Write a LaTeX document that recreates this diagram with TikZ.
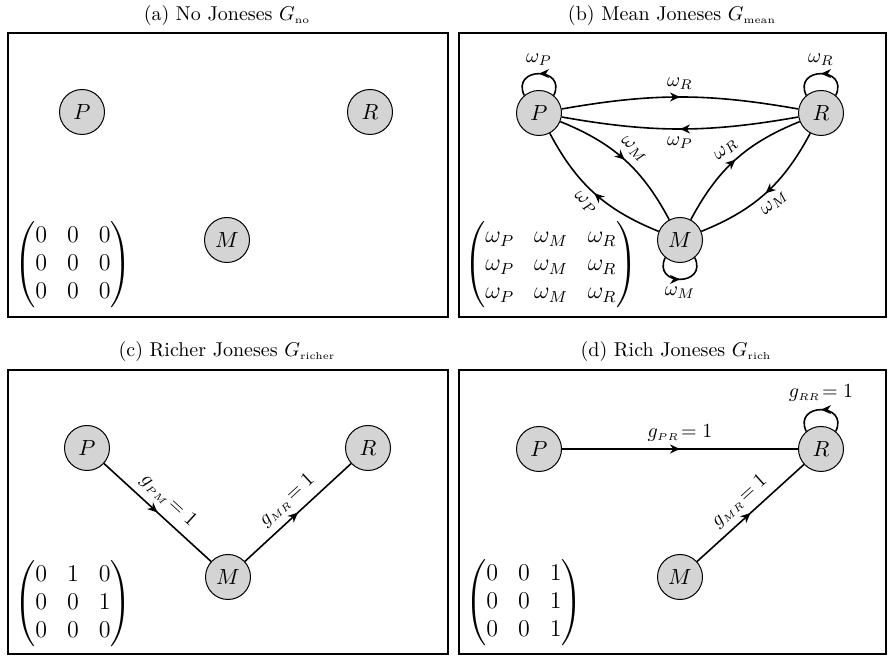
\documentclass[tikz,border=0pt]{standalone}
\usepackage{amsmath}
\usetikzlibrary{arrows.meta,decorations.markings}

\tikzset{
  vert/.style={circle, draw, fill=black!17, minimum size=22.5pt, inner sep=0pt, line width=0.5pt,
    font=\fontsize{11}{13}\selectfont},
  frame/.style={draw, line width=1pt},
  link/.style={line width=0.8pt, postaction={decorate},
    decoration={markings, mark=at position 0.5 with {\arrow{Stealth[length=5pt,width=4.5pt]}}}},
  lbl/.style={inner sep=3.5pt},
  title/.style={inner sep=0pt},
  adj/.style={anchor=west, inner sep=0pt, font=\fontsize{12}{14}\selectfont},
}

\begin{document}
\begin{tikzpicture}[x=0.5pt, y=-0.5pt]
\useasboundingbox (0,0) rectangle (890,657);

% ---------------- (a) no edges ----------------
\node[title] (ta) at (227,16) {(a) No Joneses $G_{\text{\tiny no}}$};
\draw[frame] (8,33) rectangle (448,317);
\node[vert] (aP) at (82,112) {$P$};
\node[vert] (aR) at (370,112) {$R$};
\node[vert] (aM) at (227,240) {$M$};
\node[adj] (aA) at (14,265) {$\begin{pmatrix}0&0&0\\0&0&0\\0&0&0\end{pmatrix}$};

% ---------------- (b) complete graph with loops ----------------
\node[title] (tb) at (672,16) {(b) Mean Joneses $G_{\text{\tiny mean}}$};
\draw[frame] (459,33) rectangle (886,317);
\node[vert] (bP) at (539,113) {$P$};
\node[vert] (bR) at (821,113) {$R$};
\node[vert] (bM) at (680,240) {$M$};
\node[adj] (bA) at (464,265) {$\begin{pmatrix}\omega_P&\omega_M&\omega_R\\\omega_P&\omega_M&\omega_R\\\omega_P&\omega_M&\omega_R\end{pmatrix}$};

\draw[link] (bP) to[bend left=10] node[lbl,above] {$\omega_R$} (bR);
\draw[link] (bR) to[bend left=10] node[lbl,below] {$\omega_P$} (bP);
\draw[link] (bP) to[bend left=20] node[lbl,above,sloped] {$\omega_M$} (bM);
\draw[link] (bM) to[bend left=20] node[lbl,below,sloped] {$\omega_P$} (bP);
\draw[link] (bM) to[bend left=20] node[lbl,above,sloped] {$\omega_R$} (bR);
\draw[link] (bR) to[bend left=20] node[lbl,below,sloped] {$\omega_M$} (bM);

\draw[link] (bP.50) .. controls +(65:16pt) and +(115:16pt) .. (bP.130)
  node[lbl,midway,above] {$\omega_P$};
\draw[link] (bR.50) .. controls +(65:16pt) and +(115:16pt) .. (bR.130)
  node[lbl,midway,above] {$\omega_R$};
\draw[link] (bM.230) .. controls +(245:16pt) and +(295:16pt) .. (bM.310)
  node[lbl,midway,below] {$\omega_M$};

% ---------------- (c) chain P -> M -> R ----------------
\node[title] (tc) at (227,352) {(c) Richer Joneses $G_{\text{\tiny richer}}$};
\draw[frame] (8,370) rectangle (448,654);
\node[vert] (cP) at (87,448) {$P$};
\node[vert] (cR) at (368,448) {$R$};
\node[vert] (cM) at (228,577) {$M$};
\node[adj] (cA) at (14,604) {$\begin{pmatrix}0&1&0\\0&0&1\\0&0&0\end{pmatrix}$};

\draw[link] (cP) -- node[lbl,above,sloped] {$g_{\scriptscriptstyle PM}\!=1$} (cM);
\draw[link] (cM) -- node[lbl,above,sloped] {$g_{\scriptscriptstyle MR}\!=1$} (cR);

% ---------------- (d) everything into R ----------------
\node[title] (td) at (676,352) {(d) Rich Joneses $G_{\text{\tiny rich}}$};
\draw[frame] (459,370) rectangle (886,654);
\node[vert] (dP) at (539,449) {$P$};
\node[vert] (dR) at (821,449) {$R$};
\node[vert] (dM) at (680,577) {$M$};
\node[adj] (dA) at (465,603) {$\begin{pmatrix}0&0&1\\0&0&1\\0&0&1\end{pmatrix}$};

\draw[link] (dP) -- node[lbl,above] {$g_{\scriptscriptstyle PR}\!=1$} (dR);
\draw[link] (dM) -- node[lbl,above,sloped] {$g_{\scriptscriptstyle MR}\!=1$} (dR);
\draw[link] (dR.50) .. controls +(65:16pt) and +(115:16pt) .. (dR.130)
  node[lbl,midway,above] {$g_{\scriptscriptstyle RR}\!=1$};
\end{tikzpicture}
\end{document}
